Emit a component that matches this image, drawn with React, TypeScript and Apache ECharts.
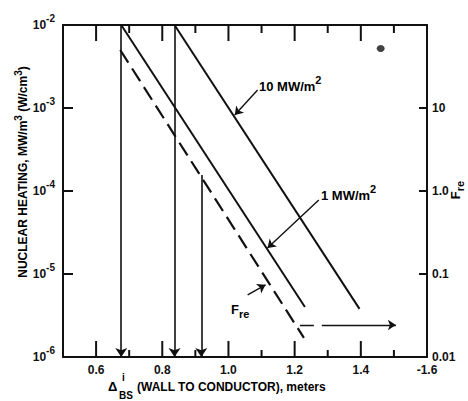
import React, { useEffect, useRef } from "react";
import * as echarts from "echarts";

// axis ticks
const xMajor = [0.6, 0.8, 1.0, 1.2, 1.4, 1.6];
const xMajorTicks = [0.6, 0.8, 1.0, 1.2, 1.4];
const xMinorTicks = [0.7, 0.9, 1.1, 1.3, 1.5];
const yLeftTicks = [1e-5, 1e-4, 1e-3];
const yRightTicks = [0.1, 1, 10];

// heating curves (left axis, MW/m^3)
const x1MW = [0.676, 1.231];
const y1MW = [1e-2, 4.0e-6];
const x10MW = [0.837, 1.396];
const y10MW = [1e-2, 3.8e-6];
// F_re curve (right axis)
const xFre = [0.673, 1.228];
const yFre = [50, 0.017];
// vertical drop arrows
const dropX = [0.676, 0.837, 0.918];
const dropTop = [1e-2, 1e-2, 1.56e-4];
const dropBottom = 1e-6;
// horizontal F_re read-off arrow (right axis)
const readY = 0.0243;
const readTailX = [1.216, 1.258];
const readArrowX = [1.282, 1.506];
// leader arrows (left axis)
const lead10X = [1.088, 1.019];
const lead10Y = [1.65e-3, 8.24e-4];
const lead1X = [1.273, 1.118];
const lead1Y = [7.8e-5, 2.06e-5];
const leadFX = [1.058, 1.112];
const leadFY = [5.6e-6, 7.4e-6];
// blot
const blot = [[1.46, 5.2e-3]];

const W = 468, H = 401;
const GRID = { left: 63, right: 41, top: 25, bottom: 44 };
const X_MIN = 0.5, X_MAX = 1.6, YL_MIN = 1e-6, YL_MAX = 1e-2, YR_MIN = 0.01, YR_MAX = 100;
const FONT = "Liberation Sans";
const INK = "#111";

export default function App() {
  const ref = useRef<HTMLDivElement>(null);
  useEffect(() => {
    if (!ref.current) return;
    const chart = echarts.init(ref.current, undefined, { renderer: "svg" });
    const lbl = { fontFamily: FONT, fontWeight: "bold", fontSize: 12, color: INK };
    const axLine = { show: true, lineStyle: { color: INK, width: 2 } };
    const seg = (xs: number[], ys: number[]) => [{ coords: [[xs[0], ys[0]], [xs[1], ys[1]]] }];
    const xAx = (position: string, labels: boolean) => ({
      type: "value", position, min: X_MIN, max: X_MAX,
      axisLine: axLine, splitLine: { show: false },
      axisTick: { show: false },
      axisLabel: labels
        ? { ...lbl, margin: 7, customValues: xMajor, formatter: (v: number) => (Math.abs(v - 1.6) < 1e-6 ? "-1.6" : v.toFixed(1)) }
        : { show: false },
    });

    // tick lengths (px) turned into data units of the axes
    const plotW = W - GRID.left - GRID.right;
    const plotH = H - GRID.top - GRID.bottom;
    const pxPerDecade = plotH / Math.log10(YL_MAX / YL_MIN);
    const yFac = (px: number) => Math.pow(10, px / pxPerDecade);
    const xLen = (px: number) => (px * (X_MAX - X_MIN)) / plotW;

    const tickSegs: { yi: number; pts: number[][] }[] = [
      ...xMajorTicks.map((v) => ({ yi: 0, pts: [[v, YL_MIN], [v, YL_MIN * yFac(16)]] })),
      ...xMajorTicks.map((v) => ({ yi: 0, pts: [[v, YL_MAX], [v, YL_MAX / yFac(16)]] })),
      ...xMinorTicks.map((v) => ({ yi: 0, pts: [[v, YL_MIN], [v, YL_MIN * yFac(7)]] })),
      ...xMinorTicks.map((v) => ({ yi: 0, pts: [[v, YL_MAX], [v, YL_MAX / yFac(8)]] })),
      ...yLeftTicks.map((v) => ({ yi: 0, pts: [[X_MIN, v], [X_MIN + xLen(10), v]] })),
      ...yRightTicks.map((v) => ({ yi: 1, pts: [[X_MAX, v], [X_MAX - xLen(8), v]] })),
    ];
    const tickLineSeries = tickSegs.map((t) => ({
      type: "line", xAxisIndex: 0, yAxisIndex: t.yi, showSymbol: false, z: 5,
      data: t.pts, lineStyle: { color: INK, width: 2 },
    }));

    chart.setOption({
      animation: false,
      grid: GRID,
      xAxis: [xAx("bottom", true), xAx("top", false)],
      yAxis: [
        {
          type: "log", logBase: 10, min: YL_MIN, max: YL_MAX, position: "left",
          axisLine: axLine, splitLine: { show: false }, axisTick: { show: false },
          axisLabel: {
            margin: 8,
            formatter: (v: number) => `{b|10}{s|${Math.round(Math.log10(v))}}`,
            rich: {
              b: { ...lbl, fontSize: 12 },
              s: { ...lbl, fontSize: 10, padding: [0, 0, 14, 0] },
            },
          },
        },
        {
          type: "log", logBase: 10, min: YR_MIN, max: YR_MAX, position: "right",
          axisLine: axLine, splitLine: { show: false }, axisTick: { show: false },
          axisLabel: {
            ...lbl, margin: 5,
            formatter: (v: number) => (v >= 100 ? "" : v === 1 ? "1.0" : v === 10 ? "10" : String(v)),
          },
        },
      ],
      series: [
        {
          type: "line", xAxisIndex: 0, yAxisIndex: 0, showSymbol: false,
          data: x1MW.map((x, i) => [x, y1MW[i]]),
          lineStyle: { color: INK, width: 2 },
        },
        {
          type: "line", xAxisIndex: 0, yAxisIndex: 0, showSymbol: false,
          data: x10MW.map((x, i) => [x, y10MW[i]]),
          lineStyle: { color: INK, width: 2 },
        },
        {
          type: "line", xAxisIndex: 0, yAxisIndex: 1, showSymbol: false,
          data: xFre.map((x, i) => [x, yFre[i]]),
          lineStyle: { color: INK, width: 2.2, type: [15, 7] },
        },
        {
          type: "lines", coordinateSystem: "cartesian2d", xAxisIndex: 0, yAxisIndex: 0,
          symbol: ["none", "arrow"], symbolSize: 9,
          lineStyle: { color: INK, width: 1.6, opacity: 1, curveness: 0 },
          data: dropX.map((x, i) => ({ coords: [[x, dropTop[i]], [x, dropBottom]] })),
        },
        {
          type: "lines", coordinateSystem: "cartesian2d", xAxisIndex: 0, yAxisIndex: 0,
          symbol: ["none", "arrow"], symbolSize: 8,
          lineStyle: { color: INK, width: 1.4, opacity: 1, curveness: 0 },
          data: [...seg(lead10X, lead10Y), ...seg(lead1X, lead1Y), ...seg(leadFX, leadFY)],
        },
        {
          type: "lines", coordinateSystem: "cartesian2d", xAxisIndex: 0, yAxisIndex: 1,
          symbol: ["none", "arrow"], symbolSize: 8,
          lineStyle: { color: INK, width: 1.4, opacity: 1, curveness: 0 },
          data: [{ coords: [[readArrowX[0], readY], [readArrowX[1], readY]] }],
        },
        {
          type: "lines", coordinateSystem: "cartesian2d", xAxisIndex: 0, yAxisIndex: 1,
          symbol: ["none", "none"],
          lineStyle: { color: INK, width: 1.4, opacity: 1, curveness: 0 },
          data: [{ coords: [[readTailX[0], readY], [readTailX[1], readY]] }],
        },
        {
          type: "scatter", xAxisIndex: 0, yAxisIndex: 0, symbol: "circle", symbolSize: [8, 7],
          itemStyle: { color: INK }, data: blot,
        },
        ...tickLineSeries,
      ],
      graphic: [
        {
          type: "text", x: 23, y: 172, rotation: Math.PI / 2,
          style: {
            text: "NUCLEAR HEATING, MW/m{s|3} (W/cm{s|3})",
            align: "center", verticalAlign: "middle",
            ...lbl, fontSize: 12,
            rich: { s: { ...lbl, fontSize: 10, padding: [0, 0, 10, 0] } },
          },
        },
        {
          type: "text", x: 455, y: 190, rotation: Math.PI / 2,
          style: {
            text: "F{s|re}", align: "center", verticalAlign: "middle", ...lbl, fontSize: 13,
            rich: { s: { ...lbl, fontSize: 11, padding: [10, 0, 0, 0] } },
          },
        },
        {
          type: "text", x: 259, y: 86,
          style: {
            text: "10 MW/m{s|2}", align: "left", verticalAlign: "middle", ...lbl, fontSize: 13,
            rich: { s: { ...lbl, fontSize: 11, padding: [0, 0, 12, 0] } },
          },
        },
        {
          type: "text", x: 321, y: 195,
          style: {
            text: "1 MW/m{s|2}", align: "left", verticalAlign: "middle", ...lbl, fontSize: 13,
            rich: { s: { ...lbl, fontSize: 11, padding: [0, 0, 12, 0] } },
          },
        },
        {
          type: "text", x: 231, y: 309,
          style: {
            text: "F{s|re}", align: "left", verticalAlign: "middle", ...lbl, fontSize: 13,
            rich: { s: { ...lbl, fontSize: 11, padding: [10, 0, 0, 0] } },
          },
        },
        {
          type: "text", x: 108, y: 386,
          style: { text: "Δ", align: "left", verticalAlign: "middle", ...lbl, fontSize: 13 },
        },
        {
          type: "text", x: 122, y: 377,
          style: { text: "i", align: "left", verticalAlign: "middle", ...lbl, fontSize: 10 },
        },
        {
          type: "text", x: 119, y: 395,
          style: { text: "BS", align: "left", verticalAlign: "middle", ...lbl, fontSize: 10 },
        },
        {
          type: "text", x: 137, y: 387,
          style: { text: "(WALL TO CONDUCTOR), meters", align: "left", verticalAlign: "middle", ...lbl, fontSize: 12 },
        },
      ],
    });
    return () => chart.dispose();
  }, []);
  return <div ref={ref} style={{ position: "fixed", left: 0, top: 0, width: W, height: H, background: "#fff" }} />;
}
